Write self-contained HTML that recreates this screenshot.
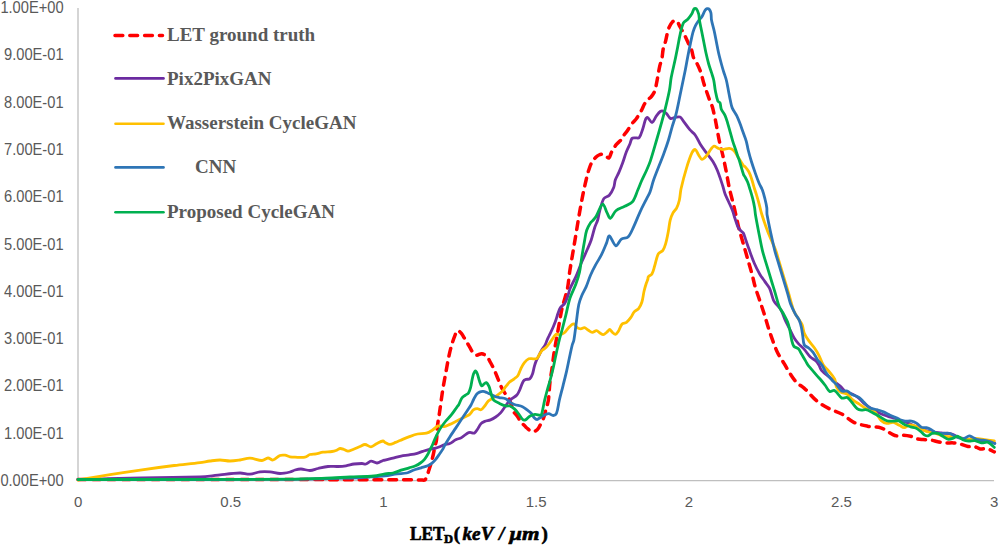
<!DOCTYPE html>
<html><head><meta charset="utf-8"><style>
html,body{margin:0;padding:0;background:#fff;}
svg{display:block;}
.ax{font-family:"Liberation Sans",sans-serif;font-size:15px;fill:#595959;}
.lg{font-family:"Liberation Serif",serif;font-size:19px;font-weight:bold;fill:#595959;}
.tt{font-family:"Liberation Serif",serif;font-size:19px;font-weight:bold;fill:#000;stroke:#000;stroke-width:0.6px;}
</style></head><body>
<svg width="999" height="546" viewBox="0 0 999 546">
<rect width="999" height="546" fill="#fff"/>
<line x1="78" y1="8" x2="78" y2="480.7" stroke="#BFBFBF" stroke-width="1.3"/>
<line x1="78" y1="480.7" x2="994" y2="480.7" stroke="#BFBFBF" stroke-width="1.3"/>
<g class="ax">
<text x="0.40" y="485.9" font-size="15.6" textLength="63.2" lengthAdjust="spacingAndGlyphs">0.00E+00</text>
<text x="4.00" y="438.6" font-size="15.6" textLength="59.6" lengthAdjust="spacingAndGlyphs">1.00E-01</text>
<text x="4.00" y="391.3" font-size="15.6" textLength="59.6" lengthAdjust="spacingAndGlyphs">2.00E-01</text>
<text x="4.00" y="344.0" font-size="15.6" textLength="59.6" lengthAdjust="spacingAndGlyphs">3.00E-01</text>
<text x="4.00" y="296.8" font-size="15.6" textLength="59.6" lengthAdjust="spacingAndGlyphs">4.00E-01</text>
<text x="4.00" y="249.5" font-size="15.6" textLength="59.6" lengthAdjust="spacingAndGlyphs">5.00E-01</text>
<text x="4.00" y="202.2" font-size="15.6" textLength="59.6" lengthAdjust="spacingAndGlyphs">6.00E-01</text>
<text x="4.00" y="155.0" font-size="15.6" textLength="59.6" lengthAdjust="spacingAndGlyphs">7.00E-01</text>
<text x="4.00" y="107.7" font-size="15.6" textLength="59.6" lengthAdjust="spacingAndGlyphs">8.00E-01</text>
<text x="4.00" y="60.4" font-size="15.6" textLength="59.6" lengthAdjust="spacingAndGlyphs">9.00E-01</text>
<text x="0.40" y="13.2" font-size="15.6" textLength="63.2" lengthAdjust="spacingAndGlyphs">1.00E+00</text>
<text x="78.1" y="506.8" text-anchor="middle">0</text>
<text x="230.8" y="506.8" text-anchor="middle">0.5</text>
<text x="383.5" y="506.8" text-anchor="middle">1</text>
<text x="536.1" y="506.8" text-anchor="middle">1.5</text>
<text x="688.8" y="506.8" text-anchor="middle">2</text>
<text x="841.5" y="506.8" text-anchor="middle">2.5</text>
<text x="994.2" y="506.8" text-anchor="middle">3</text>
</g>
<g fill="none" stroke-linejoin="round" stroke-linecap="round">
<path d="M78.00,479.50 C115.00,479.52 226.00,479.53 300.00,479.60 C336.67,479.63 373.33,479.71 410.00,479.80 C413.67,479.81 417.33,479.88 421.00,479.90 C422.30,479.91 424.08,480.65 424.90,479.90 C426.31,478.61 426.86,475.87 427.70,473.80 C428.33,472.24 428.79,470.61 429.30,469.00 C429.99,466.84 430.70,464.68 431.30,462.50 C432.03,459.85 432.70,457.18 433.30,454.50 C433.90,451.81 434.31,449.09 434.90,446.40 C435.37,444.25 436.23,442.17 436.50,440.00 C437.06,435.57 436.91,431.05 437.40,426.60 C437.94,421.71 438.89,416.87 439.60,412.00 C440.72,404.30 441.67,396.58 442.90,388.90 C444.00,382.05 445.35,375.23 446.60,368.40 C447.32,364.46 447.95,360.51 448.80,356.60 C449.65,352.68 450.59,348.76 451.70,344.90 C452.56,341.92 453.53,338.96 454.70,336.10 C455.49,334.16 456.34,331.06 457.60,330.50 C458.50,330.10 460.24,332.08 461.20,333.20 C462.67,334.91 463.70,337.05 464.90,339.00 C466.40,341.45 467.83,343.94 469.30,346.40 C470.76,348.84 471.94,351.58 473.70,353.70 C474.37,354.51 475.58,355.20 476.60,355.20 C478.28,355.20 480.15,353.48 481.80,353.70 C483.59,353.94 485.57,355.25 486.90,356.60 C488.47,358.19 489.39,360.49 490.50,362.50 C491.82,364.89 493.06,367.32 494.20,369.80 C495.53,372.69 496.68,375.66 497.90,378.60 C499.11,381.53 500.09,384.57 501.50,387.40 C502.76,389.94 504.32,392.35 505.90,394.70 C506.78,396.01 508.12,397.04 508.90,398.40 C509.76,399.90 510.21,401.65 510.80,403.30 C511.81,406.12 512.37,409.17 513.70,411.80 C514.54,413.47 516.21,414.66 517.30,416.20 C518.64,418.09 519.59,420.27 521.00,422.10 C522.06,423.47 523.48,424.56 524.70,425.80 C525.41,426.52 526.01,427.37 526.80,428.00 C528.44,429.31 530.14,430.99 532.00,431.60 C533.08,431.95 534.57,431.46 535.60,430.90 C536.77,430.26 537.84,429.14 538.60,428.00 C539.80,426.21 540.53,424.06 541.50,422.10 C542.23,420.63 543.15,419.24 543.70,417.70 C544.62,415.11 545.15,412.36 545.90,409.70 C546.39,407.96 546.96,406.25 547.40,404.50 C547.83,402.81 548.30,401.13 548.50,399.40 C549.13,393.89 549.28,388.32 549.90,382.80 C550.38,378.52 551.21,374.27 551.80,370.00 C552.57,364.44 553.12,358.84 554.00,353.30 C555.36,344.71 556.97,336.16 558.50,327.60 C559.70,320.89 560.75,314.15 562.20,307.50 C562.88,304.38 564.06,301.38 564.90,298.30 C565.89,294.65 567.03,291.02 567.70,287.30 C568.66,281.95 568.99,276.48 569.80,271.10 C570.79,264.48 572.00,257.90 573.10,251.30 C574.20,244.70 575.30,238.10 576.40,231.50 C577.50,224.93 578.54,218.36 579.70,211.80 C580.74,205.92 581.80,200.05 583.00,194.20 C584.20,188.35 585.51,182.51 586.90,176.70 C587.41,174.54 587.98,172.39 588.70,170.30 C589.65,167.53 590.49,164.63 591.90,162.10 C592.96,160.20 594.56,158.54 596.10,157.00 C596.92,156.18 597.94,155.45 599.00,155.00 C600.07,154.55 601.38,154.16 602.50,154.30 C603.55,154.43 604.53,155.25 605.50,155.80 C606.66,156.45 608.12,158.38 608.90,157.90 C610.16,157.12 610.56,153.89 611.60,152.00 C612.99,149.49 614.43,146.94 616.20,144.70 C617.80,142.68 620.09,141.18 621.70,139.20 C622.26,138.51 622.21,137.44 622.70,136.70 C623.78,135.07 625.25,133.70 626.40,132.10 C628.32,129.43 629.95,126.55 631.90,123.90 C633.32,121.98 635.11,120.34 636.50,118.40 C638.17,116.07 639.70,113.61 641.10,111.10 C642.43,108.71 643.28,106.02 644.70,103.70 C645.71,102.06 647.07,100.61 648.40,99.20 C649.21,98.34 650.39,97.83 651.10,96.90 C652.52,95.06 653.93,93.05 654.80,90.90 C655.73,88.58 656.00,85.98 656.50,83.50 C657.67,77.65 658.54,71.73 659.80,65.90 C660.34,63.40 661.40,61.01 661.90,58.50 C662.56,55.21 662.60,51.78 663.30,48.50 C663.84,45.98 664.94,43.60 665.60,41.10 C666.31,38.40 666.70,35.61 667.40,32.90 C667.93,30.87 668.43,28.79 669.30,26.90 C670.13,25.12 671.20,23.31 672.50,21.90 C673.17,21.18 674.36,20.36 675.20,20.50 C676.20,20.66 677.28,21.86 678.00,22.80 C678.82,23.86 679.14,25.30 679.80,26.50 C680.98,28.66 682.33,30.73 683.50,32.90 C684.47,34.70 685.34,36.55 686.20,38.40 C687.18,40.51 688.02,42.69 689.00,44.80 C689.86,46.65 691.03,48.38 691.70,50.30 C692.53,52.65 692.57,55.30 693.50,57.60 C694.37,59.77 696.05,61.59 697.10,63.70 C698.41,66.33 699.65,69.02 700.60,71.80 C701.88,75.56 702.65,79.49 703.80,83.30 C704.58,85.89 705.51,88.44 706.40,91.00 C707.44,94.01 708.48,97.02 709.60,100.00 C710.41,102.15 711.50,104.21 712.20,106.40 C713.00,108.91 713.49,111.53 714.10,114.10 C714.56,116.06 715.01,118.02 715.40,120.00 C716.81,127.26 717.99,134.57 719.50,141.80 C720.42,146.20 721.70,150.52 722.70,154.90 C723.87,160.02 724.97,165.15 726.00,170.30 C727.17,176.15 728.03,182.07 729.30,187.90 C730.59,193.80 732.29,199.62 733.70,205.50 C734.86,210.32 735.91,215.17 737.00,220.00 C737.57,222.53 738.03,225.09 738.70,227.60 C740.07,232.76 741.63,237.87 743.10,243.00 C744.57,248.13 746.03,253.27 747.50,258.40 C748.96,263.50 750.52,268.58 751.90,273.70 C753.08,278.08 753.93,282.55 755.20,286.90 C756.50,291.35 758.13,295.70 759.60,300.10 C761.07,304.50 762.60,308.88 764.00,313.30 C765.60,318.38 766.96,323.53 768.60,328.60 C770.03,333.03 771.57,337.44 773.20,341.80 C774.57,345.47 775.85,349.21 777.60,352.70 C779.51,356.51 782.00,360.03 784.20,363.70 C786.40,367.37 788.43,371.15 790.80,374.70 C792.83,377.75 794.90,380.89 797.40,383.50 C798.70,384.86 800.68,385.47 802.20,386.60 C803.54,387.60 804.81,388.72 806.00,389.90 C809.57,393.42 812.64,397.54 816.50,400.70 C820.17,403.71 824.38,406.18 828.60,408.40 C832.98,410.71 837.97,411.91 842.30,414.30 C846.37,416.54 849.63,420.34 853.80,422.30 C858.07,424.31 862.93,425.25 867.60,426.20 C871.93,427.08 876.67,426.43 880.80,427.80 C885.11,429.23 888.76,432.60 892.90,434.60 C894.42,435.33 896.15,435.91 897.80,436.00 C899.35,436.08 900.93,435.06 902.50,435.10 C905.23,435.16 908.05,435.60 910.70,436.30 C912.72,436.83 914.49,438.26 916.50,438.80 C918.62,439.36 920.89,439.41 923.10,439.60 C925.56,439.81 928.06,439.65 930.50,440.00 C933.00,440.35 935.42,441.19 937.90,441.70 C940.09,442.15 942.28,442.73 944.50,442.90 C947.51,443.13 950.58,442.75 953.60,442.90 C955.41,442.99 957.25,443.16 959.00,443.60 C962.05,444.36 964.94,445.96 968.00,446.50 C969.84,446.83 971.88,445.83 973.70,446.20 C975.95,446.66 977.94,448.56 980.20,449.00 C982.24,449.40 984.56,448.28 986.60,448.70 C989.26,449.25 993.02,451.37 994.30,451.90" stroke="#FF0000" stroke-width="3.5" stroke-dasharray="7.8 7" />
<path d="M78.00,479.60 C88.67,479.32 120.66,478.39 142.00,477.90 C161.33,477.46 180.67,477.28 200.00,476.80 C203.34,476.72 206.68,476.53 210.00,476.20 C213.35,475.87 216.65,475.16 220.00,474.80 C226.65,474.09 233.34,473.13 240.00,473.00 C243.34,472.93 246.70,474.40 250.00,474.20 C253.37,474.00 256.62,472.21 260.00,471.80 C263.29,471.41 266.69,471.52 270.00,471.80 C273.36,472.09 276.66,473.47 280.00,473.50 C283.33,473.53 286.74,472.76 290.00,472.00 C291.74,471.59 293.28,470.47 295.00,470.00 C296.94,469.47 299.00,468.93 301.00,469.00 C304.00,469.10 307.02,470.59 310.00,470.50 C312.69,470.42 315.32,469.10 318.00,468.50 C321.32,467.76 324.63,466.84 328.00,466.50 C331.30,466.17 334.67,466.63 338.00,466.50 C340.67,466.40 343.36,466.21 346.00,465.80 C348.69,465.38 351.30,464.39 354.00,464.00 C356.64,463.62 359.34,463.50 362.00,463.50 C363.34,463.50 364.76,464.32 366.00,464.00 C367.76,463.55 369.25,461.36 371.00,461.20 C372.91,461.03 375.04,463.11 377.00,463.00 C379.04,462.88 380.97,461.24 383.00,460.50 C383.64,460.27 384.34,460.26 385.00,460.10 C387.67,459.46 390.33,458.76 393.00,458.10 C395.70,457.43 398.37,456.64 401.10,456.10 C403.77,455.57 406.51,455.37 409.20,454.90 C411.88,454.43 414.58,453.99 417.20,453.30 C419.11,452.79 420.92,451.92 422.80,451.30 C424.95,450.59 427.10,449.84 429.30,449.30 C431.40,448.78 433.61,448.67 435.70,448.10 C437.65,447.57 439.52,446.75 441.40,446.00 C442.62,445.51 443.75,444.77 445.00,444.40 C446.55,443.94 448.33,444.13 449.80,443.50 C451.90,442.60 453.64,440.84 455.70,439.80 C457.54,438.87 459.72,438.61 461.50,437.60 C463.62,436.41 465.33,434.47 467.40,433.20 C468.16,432.73 469.12,432.41 470.00,432.40 C471.45,432.38 473.21,433.57 474.40,433.10 C475.64,432.61 476.42,430.76 477.30,429.50 C478.62,427.60 479.48,425.27 481.00,423.60 C481.94,422.57 483.38,421.92 484.70,421.40 C486.54,420.68 488.66,420.64 490.50,419.90 C492.33,419.17 494.09,418.14 495.70,417.00 C497.52,415.71 499.28,414.24 500.80,412.60 C502.22,411.07 503.29,409.21 504.50,407.50 C505.72,405.78 506.76,403.92 508.10,402.30 C509.19,400.98 510.48,399.80 511.80,398.70 C513.41,397.36 515.52,396.52 516.90,395.00 C518.15,393.62 518.90,391.73 519.70,390.00 C521.03,387.13 521.72,383.82 523.30,381.20 C523.85,380.28 525.08,379.77 526.10,379.40 C527.21,379.00 528.87,379.61 529.70,378.90 C531.01,377.78 531.84,375.67 532.50,373.90 C533.37,371.57 533.62,369.01 534.30,366.60 C534.82,364.74 535.36,362.87 536.10,361.10 C536.89,359.21 537.98,357.44 538.90,355.60 C539.81,353.77 540.58,351.86 541.60,350.10 C542.71,348.19 544.25,346.53 545.30,344.60 C546.08,343.16 546.45,341.51 547.10,340.00 C547.68,338.64 548.37,337.34 549.00,336.00 C550.41,333.00 551.89,330.04 553.20,327.00 C554.19,324.70 555.07,322.36 555.90,320.00 C556.71,317.69 557.27,315.30 558.10,313.00 C558.74,311.23 559.25,309.32 560.30,307.80 C561.45,306.12 563.57,305.10 564.70,303.40 C566.01,301.43 566.78,299.05 567.60,296.80 C568.61,294.02 569.08,291.03 570.20,288.30 C571.84,284.30 574.16,280.57 575.90,276.60 C578.00,271.81 579.67,266.83 581.70,262.00 C583.57,257.56 585.69,253.22 587.60,248.80 C588.86,245.89 590.20,243.00 591.20,240.00 C592.60,235.83 593.44,231.48 594.80,227.30 C595.61,224.81 596.94,222.50 597.70,220.00 C598.51,217.33 598.73,214.49 599.50,211.80 C600.77,207.35 601.57,202.36 603.80,198.60 C604.83,196.86 607.91,196.84 609.30,195.30 C611.21,193.17 612.63,190.32 613.70,187.60 C614.63,185.22 614.47,182.43 615.30,180.00 C616.23,177.27 617.85,174.77 619.00,172.10 C620.29,169.10 621.49,166.07 622.60,163.00 C623.92,159.37 624.92,155.61 626.30,152.00 C627.38,149.17 628.84,146.50 630.00,143.70 C630.71,142.00 630.84,139.75 631.90,138.50 C632.51,137.78 633.95,137.93 635.00,137.80 C636.39,137.63 638.41,138.53 639.20,137.60 C641.04,135.43 641.82,131.59 642.90,128.50 C643.95,125.49 644.40,122.18 645.60,119.30 C645.93,118.51 646.90,117.20 647.50,117.50 C649.06,118.27 650.73,122.79 652.10,122.50 C653.76,122.15 654.96,117.80 656.60,115.60 C657.70,114.13 658.87,112.50 660.30,111.50 C661.01,111.00 662.20,110.81 663.00,111.10 C664.34,111.58 665.62,112.74 666.70,113.80 C668.09,115.17 668.86,117.71 670.40,118.40 C671.60,118.94 673.39,117.72 674.90,117.50 C676.59,117.25 678.61,116.43 680.00,117.00 C681.37,117.56 682.17,119.57 683.20,120.90 C685.44,123.80 687.44,126.91 689.80,129.70 C691.47,131.67 693.81,133.11 695.30,135.20 C697.47,138.24 698.79,141.91 700.80,145.10 C702.46,147.74 704.44,150.18 706.30,152.70 C708.48,155.65 710.96,158.40 712.90,161.50 C714.63,164.27 716.07,167.27 717.30,170.30 C719.34,175.33 721.00,180.53 722.70,185.70 C723.57,188.33 724.05,191.10 725.00,193.70 C725.98,196.37 727.34,198.90 728.50,201.50 C729.77,204.36 731.18,207.18 732.30,210.10 C733.35,212.84 734.07,215.71 735.00,218.50 C735.90,221.21 736.62,224.03 737.80,226.60 C738.45,228.03 739.48,229.31 740.50,230.50 C741.31,231.44 742.71,231.93 743.30,233.00 C744.55,235.27 745.12,237.99 746.00,240.50 C746.95,243.19 747.82,245.92 748.80,248.60 C750.59,253.52 752.24,258.50 754.30,263.30 C755.90,267.03 757.76,270.69 759.80,274.20 C761.30,276.79 763.19,279.14 764.90,281.60 C766.43,283.80 768.39,285.79 769.50,288.20 C771.22,291.92 771.93,296.15 773.40,300.00 C773.76,300.95 774.39,301.79 775.00,302.60 C776.89,305.09 779.34,307.22 780.90,309.90 C782.74,313.06 783.66,316.75 785.20,320.10 C786.56,323.08 788.13,325.97 789.60,328.90 C791.07,331.83 792.32,334.90 794.00,337.70 C795.26,339.80 796.78,341.76 798.40,343.60 C800.22,345.66 802.47,347.35 804.30,349.40 C806.37,351.71 807.92,354.52 810.10,356.70 C811.82,358.42 814.23,359.43 816.00,361.10 C817.17,362.20 818.07,363.62 818.90,365.00 C819.91,366.68 820.23,368.85 821.50,370.30 C824.03,373.18 827.34,375.46 830.30,378.00 C832.28,379.70 834.29,381.34 836.30,383.00 C837.76,384.21 839.31,385.32 840.70,386.60 C842.61,388.35 844.07,390.74 846.20,392.10 C848.07,393.30 850.63,393.35 852.70,394.30 C854.63,395.19 856.54,396.27 858.20,397.60 C860.21,399.21 861.71,401.45 863.70,403.10 C866.11,405.11 868.75,406.90 871.40,408.60 C873.88,410.20 876.43,411.75 879.10,413.00 C881.93,414.32 884.93,415.31 887.90,416.30 C890.43,417.14 893.09,417.60 895.60,418.50 C897.46,419.17 899.14,420.32 901.00,421.00 C903.34,421.85 905.89,422.17 908.20,423.10 C912.42,424.80 916.38,427.21 920.60,428.90 C923.28,429.97 926.08,430.84 928.90,431.40 C932.94,432.20 937.09,432.54 941.20,433.00 C944.49,433.37 947.92,433.11 951.10,433.90 C954.32,434.71 957.19,436.86 960.40,437.80 C964.59,439.03 968.97,439.75 973.30,440.40 C977.57,441.05 981.91,441.20 986.20,441.70 C989.01,442.03 993.20,442.70 994.60,442.90" stroke="#7030A0" stroke-width="2.8" />
<path d="M78.00,480.00 C83.33,479.10 99.32,476.30 110.00,474.60 C120.65,472.90 131.32,471.31 142.00,469.80 C152.72,468.28 163.45,466.83 174.20,465.50 C182.79,464.43 191.42,463.68 200.00,462.60 C203.35,462.18 206.65,461.43 210.00,461.00 C213.32,460.57 216.67,460.00 220.00,460.00 C223.33,460.00 226.67,461.00 230.00,461.00 C233.33,461.00 236.68,460.46 240.00,460.00 C243.35,459.53 246.67,458.12 250.00,458.20 C254.00,458.29 258.08,460.54 262.00,460.50 C264.08,460.48 265.99,458.09 268.00,458.00 C269.66,457.92 271.43,460.33 273.00,460.00 C275.43,459.49 277.50,456.50 280.00,455.50 C281.50,454.90 283.37,454.99 285.00,455.20 C286.71,455.42 288.30,456.46 290.00,456.80 C291.63,457.13 293.33,457.16 295.00,457.20 C298.33,457.29 301.81,457.77 305.00,457.20 C306.81,456.87 308.22,455.05 310.00,454.50 C311.89,453.92 314.02,454.15 316.00,453.80 C318.35,453.38 320.64,452.54 323.00,452.20 C325.97,451.77 329.03,451.89 332.00,451.50 C333.36,451.32 334.72,450.98 336.00,450.50 C337.39,449.98 338.61,448.67 340.00,448.50 C341.28,448.34 342.70,449.06 344.00,449.50 C345.37,449.96 346.65,451.20 348.00,451.20 C349.65,451.20 351.36,450.14 353.00,449.50 C355.36,448.57 357.66,447.48 360.00,446.50 C361.66,445.81 363.33,444.45 365.00,444.50 C366.99,444.55 369.06,446.96 371.00,446.80 C373.06,446.63 374.95,444.49 377.00,443.50 C378.95,442.56 381.06,441.27 383.00,441.00 C383.73,440.90 384.28,442.04 385.00,442.40 C386.54,443.17 388.18,444.40 389.80,444.40 C391.68,444.40 393.62,443.12 395.50,442.40 C397.02,441.82 398.50,441.12 400.00,440.50 C402.93,439.29 405.83,438.00 408.80,436.90 C411.70,435.83 414.60,434.63 417.60,434.00 C420.46,433.40 423.59,433.91 426.40,433.20 C428.46,432.68 430.37,431.44 432.20,430.30 C434.27,429.01 435.92,426.58 438.10,425.90 C439.86,425.35 442.09,426.84 444.00,426.60 C445.99,426.34 447.91,425.23 449.80,424.40 C451.81,423.53 453.74,422.47 455.70,421.50 C457.64,420.54 459.57,419.57 461.50,418.60 C463.97,417.37 466.48,416.21 468.90,414.90 C469.32,414.68 469.68,414.35 470.00,414.00 C471.28,412.61 472.24,410.78 473.70,409.70 C474.67,408.98 476.10,408.60 477.30,408.60 C478.53,408.60 479.95,410.07 481.00,409.70 C482.42,409.20 483.59,407.34 484.70,406.00 C486.02,404.40 486.86,402.34 488.30,400.90 C489.29,399.91 490.79,399.47 492.00,398.70 C493.59,397.70 495.19,396.71 496.70,395.60 C498.89,393.98 501.16,392.37 503.10,390.50 C503.92,389.71 504.29,388.51 505.00,387.60 C506.46,385.71 507.88,383.73 509.60,382.10 C510.95,380.83 512.73,380.05 514.20,378.90 C515.46,377.91 516.93,377.01 517.80,375.70 C519.06,373.81 519.56,371.38 520.60,369.30 C521.69,367.11 522.71,364.80 524.20,362.90 C525.45,361.30 527.04,359.58 528.80,358.80 C530.11,358.22 531.87,358.89 533.40,358.80 C534.64,358.73 536.22,359.00 537.10,358.30 C538.35,357.30 538.82,355.18 539.80,353.70 C540.62,352.45 541.45,351.15 542.50,350.10 C543.58,349.02 545.11,348.39 546.20,347.30 C547.58,345.92 548.71,344.26 549.90,342.70 C552.04,339.90 553.75,336.16 556.20,334.20 C557.05,333.52 558.65,334.98 559.80,334.80 C561.25,334.58 562.83,333.92 564.00,333.00 C565.63,331.72 566.75,329.76 568.20,328.20 C569.35,326.96 570.45,325.54 571.80,324.60 C572.45,324.14 573.58,323.65 574.20,324.00 C575.38,324.65 575.98,326.72 577.20,327.60 C578.18,328.32 579.60,328.80 580.80,328.80 C582.00,328.80 583.28,327.41 584.40,327.60 C585.68,327.81 586.77,329.25 588.00,330.00 C589.40,330.85 590.83,332.30 592.30,332.40 C593.66,332.50 595.17,330.50 596.50,330.60 C597.74,330.70 598.80,332.26 600.00,333.00 C601.03,333.63 602.17,334.78 603.20,334.70 C604.33,334.61 605.49,333.34 606.50,332.50 C607.56,331.61 608.38,330.37 609.40,329.50 C609.55,329.37 609.86,329.37 610.00,329.50 C610.90,330.37 611.54,331.64 612.50,332.50 C613.37,333.28 614.59,334.54 615.50,334.40 C616.49,334.24 617.51,332.68 618.20,331.60 C619.71,329.22 620.32,326.00 622.10,324.00 C623.08,322.90 625.28,323.22 626.50,322.30 C628.21,321.02 629.60,319.16 630.90,317.40 C632.17,315.69 632.82,313.48 634.20,311.90 C635.38,310.55 637.50,310.01 638.60,308.60 C640.07,306.71 641.17,304.33 641.90,302.00 C643.01,298.46 643.24,294.64 644.10,291.00 C644.71,288.40 645.49,285.84 646.30,283.30 C646.76,281.84 647.45,280.46 647.90,279.00 C648.12,278.29 647.86,277.35 648.30,276.80 C649.19,275.68 651.16,275.26 651.90,274.00 C653.30,271.60 653.82,268.55 654.70,265.80 C655.96,261.85 656.44,257.42 658.30,253.90 C659.17,252.25 661.79,251.82 662.90,250.30 C664.22,248.49 664.96,246.12 665.60,243.90 C666.80,239.72 667.57,235.39 668.40,231.10 C669.10,227.45 669.30,223.69 670.20,220.10 C670.83,217.59 671.78,215.07 673.00,212.80 C673.91,211.10 675.74,209.92 676.60,208.20 C677.87,205.65 678.76,202.80 679.40,200.00 C680.22,196.40 680.20,192.61 681.00,189.00 C682.56,181.98 684.41,174.99 686.50,168.10 C688.08,162.89 689.71,157.54 692.00,152.70 C692.64,151.34 694.38,149.18 695.30,149.50 C696.58,149.95 697.41,153.23 698.60,155.00 C699.61,156.50 700.63,159.13 701.90,159.30 C703.19,159.47 705.09,157.35 706.30,156.00 C708.02,154.08 709.09,151.55 710.70,149.50 C711.66,148.28 712.75,146.38 714.00,146.20 C715.32,146.01 716.88,147.82 718.40,148.40 C719.78,148.92 721.25,149.50 722.70,149.50 C724.88,149.50 727.18,148.21 729.30,148.40 C730.85,148.54 732.58,149.40 733.70,150.50 C735.52,152.30 736.67,154.88 738.10,157.10 C739.97,160.01 741.61,163.13 743.60,165.90 C743.91,166.33 744.65,166.30 745.00,166.70 C746.38,168.27 747.78,169.96 748.80,171.80 C749.91,173.80 750.66,176.02 751.40,178.20 C752.40,181.15 753.09,184.21 754.00,187.20 C754.79,189.78 755.71,192.32 756.50,194.90 C757.41,197.85 758.29,200.82 759.10,203.80 C760.02,207.18 760.66,210.65 761.70,214.00 C763.59,220.09 765.60,226.15 767.90,232.10 C770.24,238.15 773.29,243.94 775.60,250.00 C776.96,253.57 777.80,257.33 778.90,261.00 C780.00,264.67 781.10,268.33 782.20,272.00 C783.30,275.67 784.40,279.33 785.50,283.00 C786.60,286.67 787.74,290.32 788.80,294.00 C789.57,296.66 790.21,299.35 791.00,302.00 C791.94,305.15 792.68,308.41 794.00,311.40 C795.14,313.98 796.91,316.28 798.40,318.70 C799.61,320.65 801.25,322.40 802.10,324.50 C803.22,327.27 803.17,330.53 804.30,333.30 C805.37,335.90 807.08,338.27 808.70,340.60 C810.48,343.17 812.72,345.43 814.50,348.00 C816.12,350.33 817.60,352.78 818.90,355.30 C820.53,358.45 821.47,362.01 823.30,365.00 C824.53,367.01 826.60,368.45 828.10,370.30 C830.40,373.15 833.09,375.90 834.70,379.10 C835.82,381.33 835.26,384.34 836.30,386.60 C837.26,388.67 838.86,390.81 840.70,392.10 C842.52,393.38 845.40,393.08 847.30,394.30 C849.40,395.65 850.73,398.17 852.70,399.80 C854.73,401.47 857.10,402.73 859.30,404.20 C861.50,405.67 863.55,407.43 865.90,408.60 C868.68,409.99 872.33,410.04 874.70,411.90 C877.47,414.08 878.71,418.24 881.30,420.70 C882.74,422.07 884.87,423.15 886.80,423.40 C888.91,423.68 891.30,422.01 893.40,422.30 C895.34,422.57 897.06,424.18 898.90,425.10 C899.26,425.28 899.64,425.42 900.00,425.60 C901.37,426.29 902.73,427.81 904.10,427.70 C906.03,427.54 907.88,425.01 909.90,424.80 C912.01,424.58 914.41,425.56 916.50,426.40 C919.91,427.76 922.96,430.15 926.40,431.40 C928.99,432.35 931.93,432.26 934.60,433.00 C936.86,433.63 938.94,434.90 941.20,435.50 C943.60,436.14 946.12,436.54 948.60,436.70 C950.26,436.81 951.96,436.14 953.60,436.30 C955.76,436.51 957.86,437.32 960.00,437.80 C962.43,438.35 964.85,439.29 967.30,439.40 C969.85,439.52 972.43,438.46 975.00,438.50 C978.20,438.56 981.40,439.29 984.60,439.70 C987.84,440.12 992.68,440.78 994.30,441.00" stroke="#FFC000" stroke-width="2.8" />
<path d="M78.00,479.60 C113.33,479.55 219.34,479.72 290.00,479.30 C310.00,479.18 330.01,478.57 350.00,478.00 C356.67,477.81 363.34,477.42 370.00,477.00 C375.01,476.69 380.02,476.39 385.00,475.80 C389.06,475.32 393.05,474.32 397.10,473.80 C400.28,473.39 403.61,473.69 406.70,473.00 C408.97,472.49 410.98,471.00 413.20,470.20 C415.82,469.26 418.54,468.61 421.20,467.80 C423.37,467.14 425.63,466.69 427.70,465.80 C429.13,465.19 430.49,464.29 431.70,463.30 C433.15,462.12 434.50,460.74 435.70,459.30 C437.16,457.54 438.38,455.58 439.70,453.70 C440.82,452.11 442.01,450.56 443.00,448.90 C443.78,447.60 444.25,446.12 445.00,444.80 C446.52,442.12 448.14,439.49 449.80,436.90 C451.70,433.93 453.74,431.04 455.70,428.10 C457.64,425.17 459.56,422.23 461.50,419.30 C463.46,416.36 465.45,413.44 467.40,410.50 C468.61,408.67 469.93,406.90 471.00,405.00 C471.99,403.24 472.67,401.30 473.60,399.50 C474.51,397.74 475.29,395.82 476.50,394.30 C477.26,393.35 478.39,392.59 479.50,392.10 C480.59,391.62 481.91,391.34 483.10,391.40 C484.35,391.47 485.61,392.03 486.80,392.50 C488.07,393.00 489.27,393.70 490.50,394.30 C492.00,395.03 493.45,395.91 495.00,396.50 C496.35,397.01 497.79,397.29 499.20,397.60 C501.32,398.06 503.67,397.96 505.60,398.80 C507.27,399.53 508.44,401.29 510.00,402.30 C511.37,403.19 512.86,403.96 514.40,404.50 C517.03,405.42 519.96,405.63 522.50,406.70 C524.09,407.37 525.41,408.64 526.80,409.70 C528.31,410.84 529.93,411.92 531.20,413.30 C532.39,414.59 533.00,416.44 534.20,417.70 C534.97,418.51 536.13,419.50 537.10,419.50 C538.07,419.50 539.03,418.29 540.00,417.70 C541.23,416.96 542.40,416.09 543.70,415.50 C545.33,414.76 547.11,413.70 548.80,413.70 C550.28,413.70 551.80,415.57 553.20,415.50 C554.37,415.44 556.03,414.46 556.50,413.30 C558.06,409.43 558.29,404.68 559.30,400.40 C560.45,395.51 561.79,390.67 563.00,385.80 C564.22,380.90 565.47,376.02 566.60,371.10 C567.57,366.85 568.38,362.56 569.30,358.30 C570.22,354.03 571.04,349.73 572.10,345.50 C572.57,343.63 573.57,341.89 573.90,340.00 C575.07,333.39 575.68,326.66 576.60,320.00 C577.31,314.83 577.73,309.59 578.80,304.50 C579.43,301.49 580.52,298.55 581.70,295.70 C582.95,292.68 584.81,289.91 586.10,286.90 C587.74,283.08 588.85,279.02 590.50,275.20 C592.02,271.69 593.79,268.27 595.60,264.90 C597.46,261.44 599.75,258.21 601.50,254.70 C603.41,250.87 604.96,246.86 606.60,242.90 C607.56,240.59 608.10,235.53 609.30,235.90 C611.20,236.49 613.56,245.16 615.90,245.80 C617.59,246.26 619.17,240.82 621.40,239.20 C623.20,237.89 626.47,238.53 628.00,237.00 C630.50,234.50 631.87,230.50 633.50,227.10 C635.90,222.10 637.77,216.84 640.10,211.80 C642.17,207.34 644.50,203.00 646.70,198.60 C647.80,196.40 649.15,194.30 650.00,192.00 C651.45,188.10 652.19,183.93 653.60,180.00 C656.69,171.43 660.32,163.04 663.50,154.50 C665.28,149.71 666.98,144.88 668.50,140.00 C669.88,135.58 670.90,131.05 672.20,126.60 C673.37,122.61 674.89,118.73 675.90,114.70 C677.49,108.36 678.65,101.90 680.00,95.50 C681.79,87.00 683.60,78.51 685.30,70.00 C686.20,65.48 686.93,60.93 687.80,56.40 C688.63,52.13 689.49,47.86 690.40,43.60 C691.22,39.76 691.93,35.87 693.00,32.10 C693.63,29.87 694.48,27.67 695.50,25.60 C696.38,23.81 697.53,22.13 698.70,20.50 C699.66,19.16 701.03,18.09 701.90,16.70 C703.16,14.69 703.82,12.26 705.10,10.30 C705.56,9.60 706.36,8.95 707.10,8.70 C707.66,8.51 708.61,8.57 709.00,9.00 C709.87,9.94 710.59,11.44 710.90,12.80 C711.42,15.11 711.07,17.64 711.50,20.00 C712.17,23.70 713.38,27.32 714.20,31.00 C715.01,34.65 715.67,38.33 716.40,42.00 C717.13,45.67 717.77,49.35 718.60,53.00 C719.44,56.69 720.42,60.35 721.40,64.00 C722.08,66.55 722.83,69.08 723.60,71.60 C724.46,74.41 725.57,77.15 726.30,80.00 C727.14,83.29 727.64,86.66 728.30,90.00 C728.98,93.43 729.56,96.88 730.30,100.30 C730.86,102.85 731.20,105.52 732.20,107.90 C733.34,110.62 735.37,112.95 736.70,115.60 C737.94,118.08 738.91,120.71 739.90,123.30 C741.04,126.27 742.03,129.30 743.10,132.30 C744.17,135.30 745.42,138.25 746.30,141.30 C747.12,144.15 747.47,147.12 748.20,150.00 C749.17,153.86 750.23,157.70 751.40,161.50 C752.60,165.40 753.94,169.25 755.30,173.10 C756.51,176.52 757.69,179.96 759.10,183.30 C760.03,185.49 761.46,187.48 762.30,189.70 C763.40,192.61 764.14,195.67 764.90,198.70 C765.64,201.67 766.39,204.67 766.80,207.70 C767.12,210.11 766.66,212.61 767.10,215.00 C769.26,226.71 771.87,238.39 774.60,250.00 C775.47,253.72 776.80,257.33 777.90,261.00 C779.00,264.67 780.10,268.33 781.20,272.00 C782.30,275.67 783.40,279.33 784.50,283.00 C785.60,286.67 786.73,290.32 787.80,294.00 C788.77,297.32 789.38,300.78 790.60,304.00 C791.94,307.54 793.71,310.95 795.50,314.30 C796.58,316.32 798.27,318.03 799.20,320.10 C800.24,322.43 800.84,324.99 801.40,327.50 C802.04,330.36 802.32,333.30 802.80,336.20 C803.29,339.14 803.07,342.54 804.30,345.00 C805.03,346.47 807.35,346.86 808.70,348.00 C810.28,349.33 811.86,350.75 813.10,352.40 C814.80,354.65 815.88,357.38 817.50,359.70 C818.81,361.58 820.65,363.09 821.90,365.00 C823.45,367.36 824.34,370.15 825.90,372.50 C827.67,375.15 829.80,377.59 831.90,380.00 C833.26,381.56 834.91,382.86 836.30,384.40 C838.21,386.53 839.56,389.66 841.80,391.00 C843.23,391.86 845.65,390.45 847.30,391.00 C848.92,391.55 850.03,393.44 851.60,394.30 C854.03,395.64 856.99,396.13 859.30,397.60 C861.02,398.69 862.23,400.53 863.70,402.00 C865.53,403.83 867.03,406.24 869.20,407.50 C871.43,408.80 874.35,408.92 876.90,409.70 C879.12,410.38 881.36,411.01 883.50,411.90 C885.76,412.84 887.87,414.17 890.10,415.20 C893.00,416.54 896.01,417.66 898.90,419.00 C899.31,419.19 899.58,419.65 900.00,419.80 C901.61,420.35 903.30,420.91 905.00,421.10 C907.14,421.34 909.40,420.74 911.50,421.10 C913.24,421.40 915.00,422.16 916.50,423.10 C918.30,424.23 919.54,426.44 921.40,427.30 C922.84,427.97 924.79,427.31 926.40,427.70 C928.09,428.11 929.75,428.87 931.30,429.70 C933.05,430.64 934.46,432.41 936.30,433.00 C938.33,433.65 940.70,433.33 942.90,433.40 C945.10,433.47 947.40,432.99 949.50,433.40 C950.97,433.69 952.21,434.86 953.60,435.50 C955.37,436.32 957.14,437.27 959.00,437.80 C960.64,438.27 962.49,438.80 964.10,438.50 C965.92,438.16 967.54,436.17 969.30,435.90 C970.34,435.74 971.45,436.72 972.50,437.20 C974.22,437.99 975.80,439.22 977.60,439.70 C979.83,440.29 982.29,440.02 984.60,440.40 C986.36,440.69 988.10,441.17 989.80,441.70 C991.53,442.24 994.05,443.28 994.90,443.60" stroke="#2E75B6" stroke-width="2.8" />
<path d="M78.00,479.50 C113.33,479.45 219.34,479.57 290.00,479.20 C302.00,479.14 314.00,478.64 326.00,478.20 C334.00,477.91 342.00,477.37 350.00,477.00 C358.00,476.63 366.05,476.73 374.00,476.00 C377.71,475.66 381.31,474.38 385.00,473.80 C387.64,473.38 390.40,473.58 393.00,473.00 C395.77,472.38 398.38,471.07 401.10,470.20 C403.78,469.34 406.51,468.62 409.20,467.80 C411.34,467.15 413.56,466.67 415.60,465.80 C417.29,465.07 418.91,464.09 420.40,463.00 C421.88,461.92 423.31,460.69 424.50,459.30 C425.74,457.85 426.73,456.16 427.70,454.50 C428.60,452.96 429.31,451.30 430.10,449.70 C430.91,448.07 431.75,446.46 432.50,444.80 C433.45,442.69 434.22,440.50 435.20,438.40 C436.59,435.43 437.91,432.40 439.60,429.60 C441.31,426.77 443.33,424.09 445.40,421.50 C447.23,419.19 449.47,417.21 451.30,414.90 C453.37,412.31 455.13,409.47 457.10,406.80 C457.56,406.17 458.23,405.68 458.60,405.00 C459.83,402.75 460.46,400.07 461.90,398.00 C462.76,396.77 464.28,396.04 465.50,395.10 C466.48,394.34 467.86,393.90 468.50,392.90 C469.59,391.20 470.15,389.02 470.70,387.00 C471.35,384.62 471.57,382.12 472.10,379.70 C472.54,377.72 472.90,375.68 473.60,373.80 C474.00,372.75 474.79,370.90 475.40,370.90 C476.02,370.90 476.87,372.74 477.30,373.80 C478.24,376.14 478.63,378.72 479.50,381.10 C480.10,382.75 480.75,385.25 481.70,385.90 C482.21,386.25 483.13,384.64 483.90,384.10 C484.69,383.54 485.73,382.31 486.40,382.60 C487.43,383.05 488.37,384.95 489.00,386.30 C489.74,387.89 490.02,389.70 490.50,391.40 C490.98,393.10 491.28,394.86 491.90,396.50 C492.38,397.79 492.83,399.29 493.80,400.20 C495.26,401.56 497.34,402.40 499.20,403.30 C501.27,404.30 503.40,405.35 505.60,405.90 C507.00,406.25 508.67,405.54 510.00,406.00 C511.60,406.54 513.11,407.73 514.40,408.90 C516.05,410.40 517.41,412.24 518.80,414.00 C520.11,415.67 521.00,417.86 522.50,419.20 C523.20,419.83 524.57,420.24 525.40,419.90 C527.00,419.24 528.17,417.14 529.80,416.20 C531.34,415.31 533.15,414.57 534.90,414.40 C536.82,414.21 539.08,415.37 540.80,415.10 C541.41,415.00 541.73,413.98 541.90,413.30 C542.99,409.08 543.61,404.68 544.60,400.40 C545.44,396.75 546.41,393.12 547.40,389.50 C548.24,386.42 549.26,383.38 550.10,380.30 C551.09,376.65 552.05,372.99 552.90,369.30 C553.88,365.05 554.67,360.76 555.60,356.50 C556.80,350.99 557.97,345.48 559.30,340.00 C560.20,336.31 561.34,332.68 562.30,329.00 C563.54,324.28 564.72,319.54 565.90,314.80 C567.29,309.21 568.23,303.47 570.00,298.00 C571.56,293.20 574.15,288.75 575.90,284.00 C577.32,280.15 578.62,276.21 579.50,272.20 C580.55,267.41 580.92,262.46 581.70,257.60 C582.65,251.73 583.63,245.85 584.70,240.00 C585.30,236.72 585.66,233.33 586.70,230.20 C587.56,227.63 588.93,225.16 590.40,222.90 C591.13,221.76 592.41,221.03 593.30,220.00 C594.34,218.80 595.39,217.57 596.20,216.20 C598.52,212.27 600.58,204.74 602.70,204.10 C604.22,203.64 605.55,210.01 607.10,212.90 C608.11,214.78 609.21,218.70 610.40,218.40 C612.15,217.96 613.56,212.68 615.90,210.70 C618.33,208.64 621.81,207.84 624.70,206.30 C627.31,204.91 630.64,204.10 632.40,201.90 C635.04,198.60 636.13,193.86 637.90,189.80 C639.16,186.89 640.21,183.90 641.50,181.00 C643.15,177.30 645.06,173.71 646.70,170.00 C647.99,167.07 649.30,164.14 650.30,161.10 C652.60,154.14 654.54,147.04 656.60,140.00 C658.17,134.64 659.71,129.28 661.20,123.90 C662.47,119.31 663.77,114.73 664.90,110.10 C666.53,103.43 668.19,96.74 669.50,90.00 C670.29,85.91 670.44,81.70 671.20,77.60 C672.27,71.80 673.78,66.08 675.00,60.30 C675.91,56.01 676.75,51.70 677.60,47.40 C678.45,43.14 679.11,38.83 680.10,34.60 C681.01,30.73 681.59,26.52 683.30,23.10 C684.15,21.39 686.45,20.64 687.80,19.20 C689.25,17.64 690.59,15.92 691.70,14.10 C692.73,12.42 693.08,10.05 694.20,8.70 C694.58,8.25 695.82,8.25 696.20,8.70 C697.32,10.05 698.17,12.22 698.70,14.10 C699.23,15.98 699.07,18.05 699.40,20.00 C700.03,23.68 700.87,27.33 701.60,31.00 C702.33,34.67 703.07,38.33 703.80,42.00 C704.53,45.67 705.19,49.35 706.00,53.00 C706.82,56.68 707.69,60.37 708.70,64.00 C709.52,66.93 710.59,69.79 711.50,72.70 C712.26,75.13 713.17,77.52 713.70,80.00 C714.47,83.62 714.68,87.36 715.40,91.00 C716.08,94.46 716.67,98.14 717.90,101.30 C718.20,102.07 719.68,102.05 720.00,102.80 C720.81,104.69 720.51,107.21 721.30,109.20 C722.21,111.47 724.08,113.35 725.10,115.60 C726.21,118.05 726.89,120.71 727.70,123.30 C728.63,126.28 729.45,129.30 730.30,132.30 C731.15,135.30 731.89,138.32 732.80,141.30 C733.59,143.89 734.55,146.43 735.40,149.00 C736.25,151.56 737.02,154.15 737.90,156.70 C738.29,157.82 738.84,158.87 739.20,160.00 C740.74,164.87 741.95,169.88 743.60,174.70 C743.88,175.52 744.59,176.14 745.00,176.90 C745.92,178.60 746.88,180.30 747.60,182.10 C748.58,184.57 749.32,187.15 750.10,189.70 C751.02,192.68 751.94,195.67 752.70,198.70 C753.44,201.67 754.08,204.68 754.60,207.70 C755.01,210.11 755.09,212.58 755.50,215.00 C756.65,221.75 757.99,228.48 759.30,235.20 C760.32,240.41 761.21,245.65 762.50,250.80 C763.81,256.05 765.55,261.20 767.10,266.40 C768.65,271.60 770.22,276.81 771.80,282.00 C772.85,285.44 773.95,288.86 775.00,292.30 C776.49,297.19 777.51,302.29 779.40,307.00 C780.45,309.62 782.44,311.81 783.80,314.30 C785.10,316.68 786.40,319.09 787.40,321.60 C788.34,323.95 789.03,326.43 789.60,328.90 C790.49,332.76 790.84,336.76 791.80,340.60 C792.31,342.63 792.76,344.98 794.00,346.50 C794.96,347.68 797.28,347.60 798.40,348.70 C799.75,350.03 800.40,352.10 801.40,353.80 C802.83,356.23 804.28,358.66 805.70,361.10 C806.45,362.39 807.06,363.77 807.90,365.00 C808.66,366.11 809.63,367.07 810.50,368.10 C812.69,370.67 814.88,373.25 817.10,375.80 C818.34,377.22 819.68,378.56 820.90,380.00 C822.42,381.79 823.87,383.64 825.30,385.50 C826.81,387.47 827.88,390.49 829.70,391.50 C830.81,392.12 832.79,390.11 834.10,390.40 C835.35,390.68 836.38,392.18 837.40,393.20 C838.95,394.75 840.01,397.30 841.80,398.10 C843.31,398.77 845.75,396.99 847.30,397.60 C849.02,398.29 850.24,400.47 851.60,402.00 C853.50,404.14 854.96,406.83 857.10,408.60 C858.26,409.56 859.99,410.01 861.50,410.20 C862.93,410.38 864.49,409.46 865.90,409.70 C867.79,410.02 869.64,411.02 871.40,411.90 C874.04,413.22 876.53,414.83 879.10,416.30 C881.67,417.77 884.07,419.76 886.80,420.70 C888.84,421.40 891.20,421.20 893.40,421.20 C895.23,421.20 897.13,420.62 898.90,420.70 C899.33,420.72 899.62,421.25 900.00,421.50 C901.66,422.61 903.22,423.92 905.00,424.80 C906.79,425.69 908.78,426.21 910.70,426.80 C912.34,427.31 914.16,427.38 915.70,428.10 C917.46,428.92 919.05,430.19 920.60,431.40 C922.05,432.53 923.17,434.17 924.70,435.10 C925.64,435.67 926.98,436.13 928.00,435.90 C929.48,435.57 930.68,433.78 932.20,433.40 C933.98,432.95 936.13,432.92 937.90,433.40 C939.70,433.89 941.24,435.33 942.90,436.30 C944.54,437.26 946.05,438.83 947.80,439.20 C949.35,439.53 951.21,438.91 952.80,438.40 C954.24,437.94 955.50,436.64 956.90,436.30 C957.56,436.14 958.38,436.54 959.00,436.90 C960.34,437.67 961.38,439.10 962.80,439.70 C964.58,440.46 966.64,440.84 968.60,441.00 C970.71,441.17 972.93,440.39 975.00,440.70 C977.19,441.03 979.21,442.63 981.40,442.90 C983.48,443.16 985.92,441.64 987.80,442.30 C990.22,443.14 993.22,446.55 994.30,447.40" stroke="#00B050" stroke-width="2.8" />
</g>
<line x1="115" y1="35.4" x2="162.5" y2="35.4" stroke="#FF0000" stroke-width="3.5" stroke-linecap="round" stroke-dasharray="7.8 7" />
<text x="167" y="40.9" class="lg">LET ground truth</text>
<line x1="115.5" y1="78.4" x2="163.5" y2="78.4" stroke="#6B2AA0" stroke-width="2.6" stroke-linecap="round" />
<text x="167" y="84.8" class="lg">Pix2PixGAN</text>
<line x1="115.5" y1="123.7" x2="163.5" y2="123.7" stroke="#FFC000" stroke-width="2.6" stroke-linecap="round" />
<text x="167" y="129.1" class="lg">Wasserstein CycleGAN</text>
<line x1="115.5" y1="167.4" x2="163.5" y2="167.4" stroke="#2E75B6" stroke-width="2.6" stroke-linecap="round" />
<text x="195" y="172.8" class="lg">CNN</text>
<line x1="115.5" y1="212.2" x2="163.5" y2="212.2" stroke="#00B050" stroke-width="2.6" stroke-linecap="round" />
<text x="167" y="218.3" class="lg">Proposed CycleGAN</text>
<g class="tt">
<text x="409.9" y="539.9" textLength="34.7" lengthAdjust="spacingAndGlyphs">LET</text>
<text x="444" y="543.2" font-size="12.5">D</text>
<text x="453.8" y="540">(</text>
<text x="462.5" y="540" font-style="italic" textLength="31" lengthAdjust="spacingAndGlyphs">keV</text>
<text x="499" y="540" font-style="italic">/</text>
<text x="509.5" y="540" font-style="italic" textLength="30" lengthAdjust="spacingAndGlyphs">μm</text>
<text x="541.5" y="540">)</text>
</g>
</svg>
</body></html>
